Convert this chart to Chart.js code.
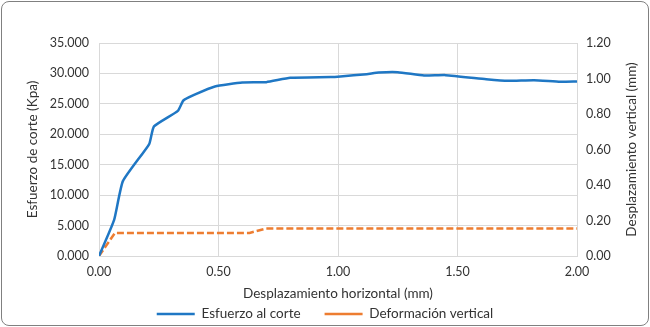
<!DOCTYPE html>
<html>
<head>
<meta charset="utf-8">
<script src="https://cdn.jsdelivr.net/npm/chart.js@4"></script>
<style>
  body { margin: 0; background: #fff; }
  #wrap { position: relative; width: 650px; height: 327px; }
  #frame { position: absolute; left: 1px; top: 1px; width: 646px; height: 323px; border: 1px solid #808080; border-radius: 8px; pointer-events: none; }
</style>
</head>
<body>
<div id="wrap">
  <canvas id="myChart" width="650" height="327"></canvas>
  <div id="frame"></div>
</div>
<script>
// desplazamiento horizontal (mm) vs esfuerzo (kPa)
var despX = [0, 0.063, 0.10, 0.21, 0.23, 0.33, 0.353, 0.40, 0.485, 0.60, 0.70, 0.80, 0.97, 1.01, 1.12, 1.17, 1.25, 1.36, 1.45, 1.62, 1.71, 1.82, 1.93, 2.00];
var esfuerzo = [0, 5900, 12300, 18400, 21300, 23850, 25550, 26500, 27850, 28500, 28570, 29280, 29400, 29500, 29880, 30150, 30210, 29650, 29720, 29060, 28780, 28890, 28620, 28670];
// deformacion vertical (mm)
var defX = [0, 0.067, 0.63, 0.70, 2.00];
var deformacion = [0, 0.13, 0.13, 0.155, 0.155];

var xTicks = [0, 0.5, 1, 1.5, 2];

var fam = 'Lato, "Open Sans", sans-serif';
var tickFont = { family: fam, size: 12.5 };
var font = { family: fam, size: 13.5 };
var txt = '#333333';
var gridCol = '#d9d9d9';

function pts(xs, ys) {
     var out = [];
     for (var i = 0; i < xs.length; i++) out.push({ x: xs[i], y: ys[i] });
     return out;
}

// right axis title reads bottom-to-top like in Excel,
// and the legend keeps wide gaps between items but a short box
var tweaks = {
     id: 'tweaks',
     beforeLayout: function (chart) {
          var lg = chart.legend;
          if (lg && !lg._short) {
               var f = lg.fit;
               lg.fit = function () { f.call(this); this.height = 22; };
               lg._short = true;
          }
     },
     afterLayout: function (chart) {
          chart.legend.top = 314 - 24 - font.size / 2;
     },
     afterDraw: function (chart) {
          var ctx = chart.ctx;
          var a = chart.chartArea;
          ctx.save();
          ctx.translate(632, (a.top + a.bottom) / 2);
          ctx.rotate(-Math.PI / 2);
          ctx.fillStyle = txt;
          ctx.font = font.size + 'px ' + fam;
          ctx.textAlign = 'center';
          ctx.textBaseline = 'middle';
          ctx.fillText('Desplazamiento vertical (mm)', 0, 0);
          ctx.restore();
     }
};

new Chart('myChart', {
     type: 'line',
     data: {
          datasets: [{
               label: 'Esfuerzo al corte',
               data: pts(despX, esfuerzo),
               yAxisID: 'y',
               borderColor: '#1f77c4',
               backgroundColor: '#1f77c4',
               borderWidth: 2.5,
               pointRadius: 0,
               tension: 0.15
          }, {
               label: 'Deformación vertical',
               data: pts(defX, deformacion),
               yAxisID: 'y2',
               borderColor: '#ed7d31',
               backgroundColor: '#ed7d31',
               borderWidth: 2.5,
               borderDash: [7, 3],
               pointRadius: 0,
               tension: 0
          }]
     },
     plugins: [tweaks],
     options: {
          responsive: false,
          animation: false,
          layout: { padding: { top: 43, left: 0, right: 0, bottom: 2 } },
          plugins: {
               tooltip: { enabled: false },
               legend: {
                    position: 'bottom',
                    labels: {
                         usePointStyle: true,
                         pointStyle: 'line',
                         pointStyleWidth: 38,
                         color: txt,
                         font: font,
                         padding: 24,
                         boxHeight: 13
                    }
               }
          },
          scales: {
               x: {
                    type: 'linear',
                    min: 0, max: 2,
                    afterBuildTicks: function (s) { s.ticks = xTicks.map(function (v) { return { value: v }; }); },
                    afterFit: function (s) { s.height = 47; },
                    grid: { color: gridCol, drawTicks: false },
                    border: { color: gridCol },
                    ticks: { color: txt, font: tickFont, padding: 8, callback: function (v) { return v.toFixed(2); } },
                    title: { display: true, text: 'Desplazamiento horizontal (mm)', color: txt, font: font, padding: { top: 4, bottom: 1 } }
               },
               y: {
                    position: 'left',
                    min: 0, max: 35000,
                    afterFit: function (s) { s.width = 99; },
                    grid: { color: gridCol, drawTicks: false },
                    border: { display: false },
                    ticks: { stepSize: 5000, color: txt, font: tickFont, padding: 10, callback: function (v) { return (v / 1000).toFixed(3); } },
                    title: { display: true, text: 'Esfuerzo de corte (Kpa)', color: txt, font: font, padding: { top: 25, bottom: 0 } }
               },
               y2: {
                    position: 'right',
                    min: 0, max: 1.2,
                    afterFit: function (s) { s.width = 73; },
                    grid: { display: false, drawTicks: false },
                    border: { display: false },
                    ticks: { stepSize: 0.2, color: txt, font: tickFont, padding: 9, callback: function (v) { return v.toFixed(2); } }
               }
          }
     }
});
</script>
</body>
</html>
